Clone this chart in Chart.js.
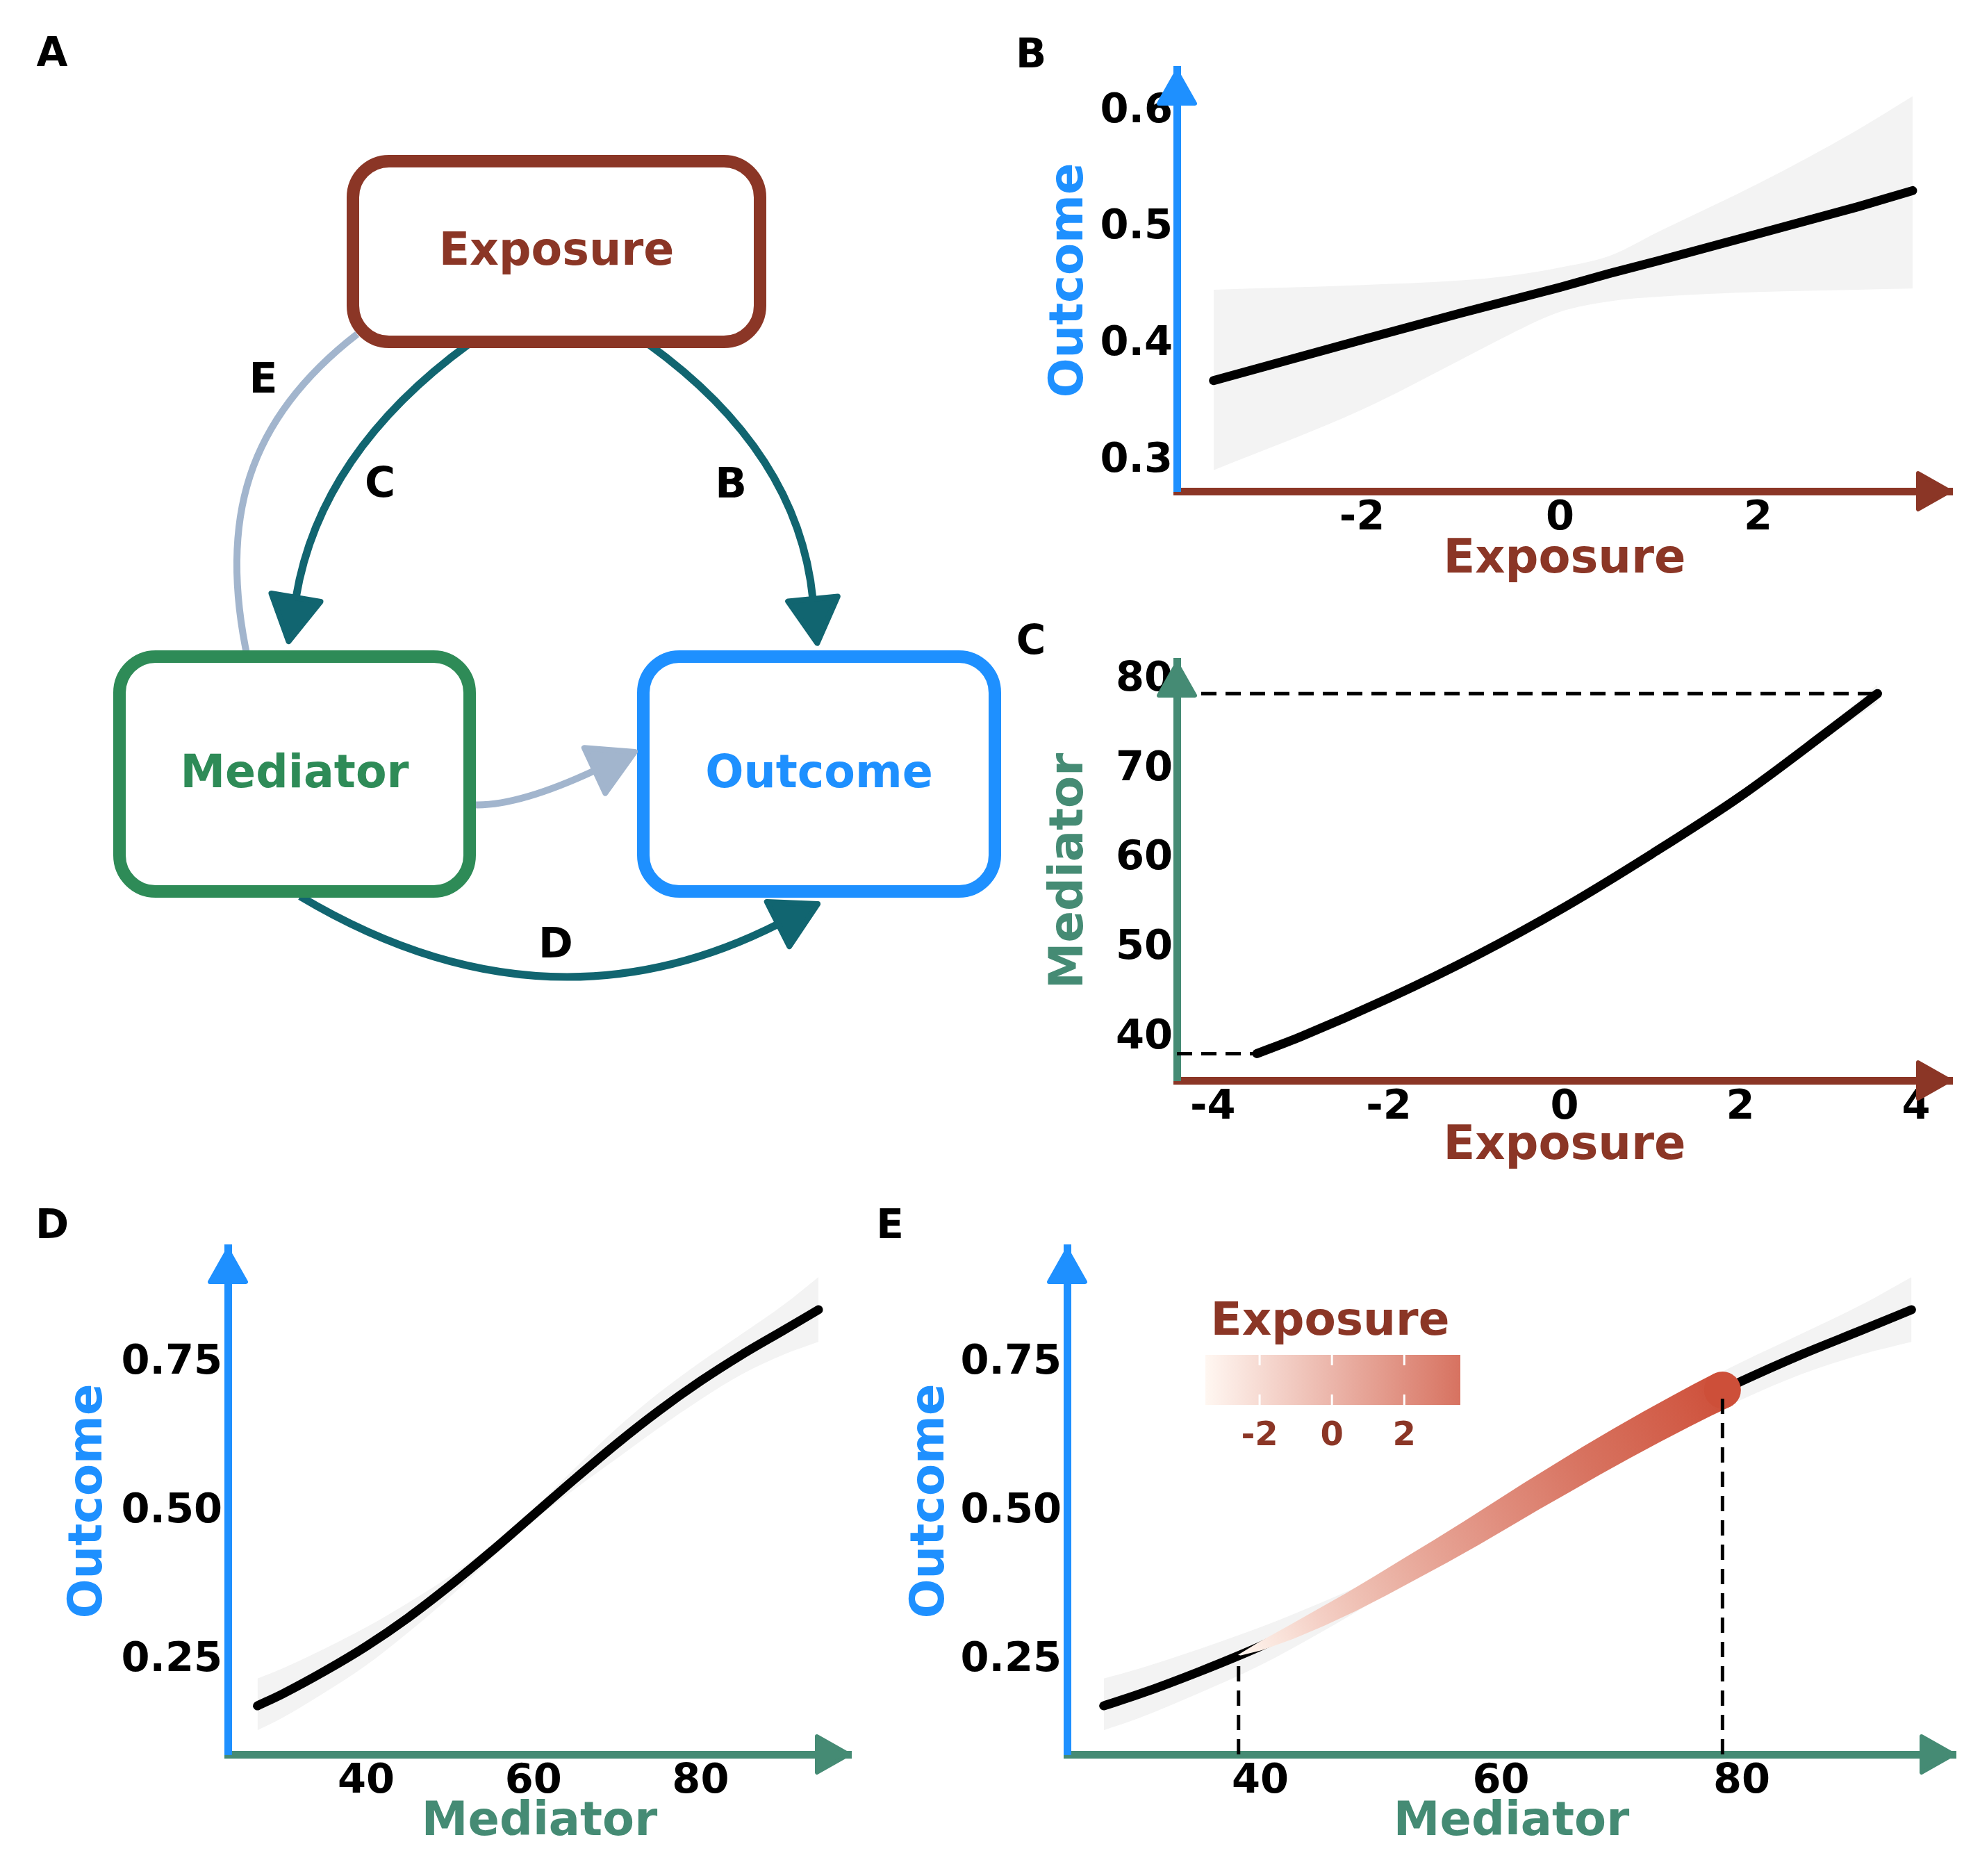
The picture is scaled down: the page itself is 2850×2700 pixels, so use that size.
<!DOCTYPE html>
<html lang="en">
<head>
<meta charset="UTF-8">
<title>Exposure - Mediator - Outcome</title>
<script src="https://cdn.jsdelivr.net/npm/chart.js"></script>
<style>
  body { margin: 0; background: #fff; }
  #page { position: relative; width: 2850px; height: 2700px; }
  canvas { position: absolute; }
</style>
</head>
<body>
<div id="page">
  <canvas id="panelA" width="1450" height="1500" style="left:0px;top:0px"></canvas>
  <canvas id="panelB" width="1400" height="880" style="left:1450px;top:0px"></canvas>
  <canvas id="panelC" width="1400" height="880" style="left:1450px;top:880px"></canvas>
  <canvas id="panelD" width="1250" height="1000" style="left:0px;top:1700px"></canvas>
  <canvas id="panelE" width="1600" height="1000" style="left:1250px;top:1700px"></canvas>
</div>
<script>
// ---- data ----
// B: exposure -> outcome
const bExposure = [-3.5, -2, -1, -0.5, 0, 0.5, 1, 2, 3, 3.56];
const bOutcome  = [0.369, 0.404, 0.427, 0.438, 0.449, 0.461, 0.472, 0.495, 0.518, 0.532];
const bUpper    = [0.447, 0.451, 0.455, 0.459, 0.466, 0.476, 0.497, 0.538, 0.584, 0.613];
const bLower    = [0.292, 0.344, 0.387, 0.409, 0.428, 0.437, 0.441, 0.445, 0.447, 0.448];
const bXTicks = [-2, 0, 2];
const bYTicks = [0.3, 0.4, 0.5, 0.6];

// C: exposure -> mediator
const cExposure = [-3.5, -3, -2, -1, 0, 1, 2, 3, 3.56];
const cMediator = [38.2, 40.1, 44.4, 49.2, 54.6, 60.6, 67.0, 74.3, 78.5];
const cUpper    = [38.4, 40.3, 44.6, 49.4, 54.8, 60.8, 67.3, 74.9, 79.5];
const cLower    = [38.0, 39.9, 44.2, 49.0, 54.4, 60.4, 66.7, 73.7, 77.5];
const cXTicks = [-4, -2, 0, 2, 4];
const cYTicks = [40, 50, 60, 70, 80];

// D / E: mediator -> outcome
const dMediator = [27, 30, 35, 40, 45, 50, 55, 60, 65, 70, 75, 80, 85, 90, 94.1];
const dOutcome  = [0.174, 0.194, 0.232, 0.274, 0.322, 0.376, 0.434, 0.495, 0.556, 0.615, 0.670, 0.720, 0.765, 0.806, 0.840];
const dUpper    = [0.220, 0.237, 0.270, 0.306, 0.347, 0.392, 0.444, 0.505, 0.574, 0.641, 0.700, 0.752, 0.800, 0.849, 0.895];
const dLower    = [0.133, 0.154, 0.196, 0.242, 0.297, 0.357, 0.422, 0.485, 0.539, 0.590, 0.641, 0.689, 0.732, 0.765, 0.786];
const dXTicks = [40, 60, 80];
const dYTicks = [0.25, 0.5, 0.75];

// E: part of the curve reached by the exposure range
const eMediator = [38.2, 40, 42.5, 45, 47.5, 50, 52.5, 55, 57.5, 60, 62.5, 65, 67.5, 70, 72.5, 75, 76.7, 78.4];
const eOutcome  = [0.259, 0.274, 0.297, 0.322, 0.348, 0.376, 0.405, 0.434, 0.464, 0.495, 0.526, 0.556, 0.586, 0.615, 0.643, 0.670, 0.688, 0.705];
const eExposure = [-3.5, -3.12, -2.51, -1.9, -1.37, -0.87, -0.4, 0.07, 0.48, 0.9, 1.31, 1.72, 2.09, 2.42, 2.74, 3.04, 3.28, 3.55];
const legendTicks = [-2, 0, 2];

const COL_EXP = '#8B3626', COL_MED = '#458B74', COL_MED_BOX = '#2E8B57', COL_OUT = '#1E90FF';
const COL_PATH = '#116570', COL_DIRECT = '#A2B5CD', BAND = '#F3F3F3';
const FONT = '"DejaVu Sans", sans-serif';

Chart.defaults.font.family = FONT;
Chart.defaults.font.weight = 'bold';
Chart.defaults.color = '#000';

const pts = (xs, ys) => xs.map((v, i) => ({x: v, y: ys[i]}));

function curveSet(xs, ys, smooth) {
  return {data: pts(xs, ys), showLine: true, borderColor: '#000', borderWidth: 13,
          borderCapStyle: 'round', pointRadius: 0, fill: false,
          cubicInterpolationMode: smooth ? 'monotone' : 'default', tension: 0};
}
function bandSets(xs, up, lo) {
  return [
    {data: pts(xs, up), showLine: true, borderWidth: 0, borderColor: 'rgba(0,0,0,0)', pointRadius: 0,
     fill: '+1', backgroundColor: BAND, cubicInterpolationMode: 'monotone'},
    {data: pts(xs, lo), showLine: true, borderWidth: 0, borderColor: 'rgba(0,0,0,0)', pointRadius: 0,
     fill: false, cubicInterpolationMode: 'monotone'}
  ];
}
function dashSet(p0, p1) {
  return {data: [p0, p1], showLine: true, borderColor: '#000', borderWidth: 5,
          borderDash: [22, 13], pointRadius: 0, fill: false};
}

function scaleCfg(o) {
  return {
    type: 'linear', min: o.range[0], max: o.range[1],
    afterBuildTicks: s => { s.ticks = o.ticks.map(v => ({value: v})); },
    afterFit: s => { if (s.isHorizontal()) s.height = o.size; else s.width = o.size; },
    grid: {display: false, drawTicks: false, tickLength: 0},
    border: {display: true, color: o.color, width: 11},
    ticks: {autoSkip: false, maxRotation: 0, padding: o.tickPad, color: '#000',
            font: {size: 59, weight: 'bold'}, callback: v => v.toFixed(o.digits)},
    title: {display: true, text: o.title, color: o.color,
            font: {size: 67, weight: 'bold'}, padding: o.titlePad}
  };
}

function arrowHead(ctx, tx, ty, dx, dy, len, hw, color, lw) {
  const bx = tx - dx * len, by = ty - dy * len;
  ctx.save();
  ctx.fillStyle = ctx.strokeStyle = color;
  ctx.lineJoin = 'round';
  ctx.lineWidth = lw;
  ctx.beginPath();
  ctx.moveTo(tx, ty);
  ctx.lineTo(bx - dy * hw, by + dx * hw);
  ctx.lineTo(bx + dy * hw, by - dx * hw);
  ctx.closePath();
  ctx.fill();
  ctx.stroke();
  ctx.restore();
}

// arrow tips at the end of both axes
const axisArrows = {
  id: 'axisArrows',
  afterDraw(chart) {
    const {ctx, chartArea: a, scales} = chart;
    arrowHead(ctx, a.right - 3, a.bottom, 1, 0, 46, 26, scales.x.options.border.color, 6);
    arrowHead(ctx, a.left, a.top + 3, 0, -1, 46, 26, scales.y.options.border.color, 6);
  }
};

const letter = {
  id: 'letter',
  afterDraw(chart, args, opts) {
    const ctx = chart.ctx;
    ctx.save();
    ctx.font = 'bold 58px ' + FONT;
    ctx.fillStyle = '#000';
    ctx.textAlign = 'center';
    ctx.textBaseline = 'middle';
    ctx.fillText(opts.text, opts.x, opts.y);
    ctx.restore();
  }
};

function panel(id, datasets, x, y, padding, letterOpts, extra) {
  return new Chart(document.getElementById(id), {
    type: 'scatter',
    data: {datasets},
    options: {
      responsive: false, animation: false, devicePixelRatio: 1,
      layout: {padding},
      plugins: {legend: {display: false}, tooltip: {enabled: false}, letter: letterOpts},
      scales: {x: scaleCfg(x), y: scaleCfg(y)}
    },
    plugins: [axisArrows, letter].concat(extra || [])
  });
}

function expColor(t, a) {
  const c0 = [255, 245, 238], c1 = [205, 79, 57];
  const c = c0.map((v, i) => Math.round(v + (c1[i] - v) * t));
  return 'rgba(' + c.join(',') + ',' + a + ')';
}

// ---- A: diagram ----
function roundBox(ctx, x0, y0, x1, y1, r) {
  ctx.beginPath();
  ctx.moveTo(x0 + r, y0);
  ctx.arcTo(x1, y0, x1, y1, r);
  ctx.arcTo(x1, y1, x0, y1, r);
  ctx.arcTo(x0, y1, x0, y0, r);
  ctx.arcTo(x0, y0, x1, y0, r);
  ctx.closePath();
}

const diagram = {
  id: 'diagram',
  afterDraw(chart) {
    const {ctx, scales: {x, y}} = chart;
    const P = q => [x.getPixelForValue(q[0]), y.getPixelForValue(q[1])];
    const edge = (c, color, w) => {
      const p = c.map(P);
      ctx.save();
      ctx.strokeStyle = color; ctx.lineWidth = w; ctx.lineCap = 'butt';
      ctx.beginPath();
      ctx.moveTo(p[0][0], p[0][1]);
      if (p.length === 3) ctx.quadraticCurveTo(p[1][0], p[1][1], p[2][0], p[2][1]);
      else ctx.bezierCurveTo(p[1][0], p[1][1], p[2][0], p[2][1], p[3][0], p[3][1]);
      ctx.stroke();
      ctx.restore();
      const e = p[p.length - 1], b = p[p.length - 2];
      const d = Math.hypot(e[0] - b[0], e[1] - b[1]);
      return {x: e[0], y: e[1], dx: (e[0] - b[0]) / d, dy: (e[1] - b[1]) / d};
    };
    const tip = (h, color) => arrowHead(ctx, h.x + h.dx * 64, h.y + h.dy * 64, h.dx, h.dy, 64, 36, color, 8);

    edge([[514, 481], [356, 603], [313, 748], [357, 950]], COL_DIRECT, 10);
    const hE = edge([[676, 1158], [740, 1163], [856, 1109]], COL_DIRECT, 10);
    const hC = edge([[675, 495], [461, 651], [426, 860]], COL_PATH, 11);
    const hB = edge([[933, 495], [1149, 651], [1170, 862]], COL_PATH, 11);
    const hD = edge([[432, 1290], [784, 1500], [1120, 1330]], COL_PATH, 11);

    const boxes = [
      {t: 'Exposure', c: COL_EXP, r: [508, 232, 1094, 492]},
      {t: 'Mediator', c: COL_MED_BOX, r: [172, 945, 676, 1283]},
      {t: 'Outcome', c: COL_OUT, r: [926, 945, 1432, 1283]}
    ];
    boxes.forEach(b => {
      const [x0, y0] = P([b.r[0], b.r[1]]), [x1, y1] = P([b.r[2], b.r[3]]);
      ctx.save();
      roundBox(ctx, x0, y0, x1, y1, 52);
      ctx.fillStyle = '#fff'; ctx.fill();
      ctx.strokeStyle = b.c; ctx.lineWidth = 18; ctx.stroke();
      ctx.font = 'bold 65px ' + FONT;
      ctx.fillStyle = b.c; ctx.textAlign = 'center'; ctx.textBaseline = 'middle';
      ctx.fillText(b.t, (x0 + x1) / 2, (y0 + y1) / 2 + 2);
      ctx.restore();
    });

    tip(hE, COL_DIRECT);
    tip(hC, COL_PATH);
    tip(hB, COL_PATH);
    tip(hD, COL_PATH);

    ctx.save();
    ctx.font = 'bold 60px ' + FONT;
    ctx.fillStyle = '#000'; ctx.textAlign = 'center'; ctx.textBaseline = 'middle';
    [['E', 379, 549], ['C', 547, 699], ['B', 1052, 700], ['D', 800, 1362]].forEach(l => {
      const [px, py] = P([l[1], l[2]]);
      ctx.fillText(l[0], px, py);
    });
    ctx.restore();
  }
};

new Chart(document.getElementById('panelA'), {
  type: 'scatter',
  data: {datasets: []},
  options: {
    responsive: false, animation: false, devicePixelRatio: 1,
    layout: {padding: 0},
    plugins: {legend: {display: false}, tooltip: {enabled: false}, letter: {text: 'A', x: 75, y: 80}},
    scales: {
      x: {type: 'linear', min: 0, max: 1450, display: false},
      y: {type: 'linear', min: 0, max: 1500, reverse: true, display: false}
    }
  },
  plugins: [diagram, letter]
});

// ---- B ----
panel('panelB',
  [curveSet(bExposure, bOutcome, false)].concat(bandSets(bExposure, bUpper, bLower)),
  {range: [-3.87, 3.96], ticks: bXTicks, digits: 0, color: COL_EXP, title: 'Exposure', size: 139.4, tickPad: 4, titlePad: {top: 0, bottom: 0}},
  {range: [0.274, 0.636], ticks: bYTicks, digits: 1, color: COL_OUT, title: 'Outcome', size: 244, tickPad: 6, titlePad: {top: 50, bottom: 0}},
  {left: 0, right: 40, top: 100, bottom: 33.6},
  {text: 'B', x: 34, y: 82});

// ---- C ----
const cXRange = [-4.41, 4.41];
const cLast = cMediator.length - 1;
panel('panelC',
  [dashSet({x: cXRange[0], y: cMediator[cLast]}, {x: cExposure[cLast], y: cMediator[cLast]}),
   dashSet({x: cXRange[0], y: cMediator[0]}, {x: cExposure[0], y: cMediator[0]}),
   curveSet(cExposure, cMediator, true)].concat(bandSets(cExposure, cUpper, cLower)),
  {range: cXRange, ticks: cXTicks, digits: 0, color: COL_EXP, title: 'Exposure', size: 135.4, tickPad: 4, titlePad: {top: 0, bottom: 0}},
  {range: [35.2, 82.1], ticks: cYTicks, digits: 0, color: COL_MED, title: 'Mediator', size: 244, tickPad: 6, titlePad: {top: 50, bottom: 0}},
  {left: 0, right: 40, top: 72, bottom: 69.6},
  {text: 'C', x: 34, y: 46});

// ---- D ----
const deYRange = [0.0923, 0.944];
panel('panelD',
  [curveSet(dMediator, dOutcome, true)].concat(bandSets(dMediator, dUpper, dLower)),
  {range: [23.46, 98.0], ticks: dXTicks, digits: 0, color: COL_MED, title: 'Mediator', size: 138.4, tickPad: 4, titlePad: {top: 0, bottom: 0}},
  {range: deYRange, ticks: dYTicks, digits: 2, color: COL_OUT, title: 'Outcome', size: 328, tickPad: 8, titlePad: {top: 88, bottom: 0}},
  {left: 0, right: 25, top: 96, bottom: 36.6},
  {text: 'D', x: 75, y: 67});

// ---- E ----
// tapered band along the curve: width and colour follow the exposure
const ribbon = {
  id: 'ribbon',
  afterDatasetDraw(chart, args) {
    if (args.index !== 2) return;
    const ctx = chart.ctx;
    const p = args.meta.data.map(e => ({x: e.x, y: e.y}));
    const n = p.length;
    const lo = eExposure[0], hi = eExposure[n - 1];
    const t = eExposure.map(e => (e - lo) / (hi - lo));
    const w = t.map(v => Math.max(2, 53 * Math.sqrt(v)));
    const L = [], R = [];
    for (let i = 0; i < n; i++) {
      const a = p[Math.max(i - 1, 0)], b = p[Math.min(i + 1, n - 1)];
      const d = Math.hypot(b.x - a.x, b.y - a.y);
      const ux = (b.x - a.x) / d, uy = (b.y - a.y) / d;
      L.push({x: p[i].x - uy * w[i] / 2, y: p[i].y + ux * w[i] / 2});
      R.push({x: p[i].x + uy * w[i] / 2, y: p[i].y - ux * w[i] / 2});
    }
    const g = ctx.createLinearGradient(p[0].x, p[0].y, p[n - 1].x, p[n - 1].y);
    const vx = p[n - 1].x - p[0].x, vy = p[n - 1].y - p[0].y, vv = vx * vx + vy * vy;
    p.forEach((q, i) => {
      const f = ((q.x - p[0].x) * vx + (q.y - p[0].y) * vy) / vv;
      g.addColorStop(Math.min(1, Math.max(0, f)), expColor(t[i], 1));
    });
    ctx.save();
    ctx.fillStyle = g;
    ctx.beginPath();
    L.forEach((q, i) => i ? ctx.lineTo(q.x, q.y) : ctx.moveTo(q.x, q.y));
    for (let i = n - 1; i >= 0; i--) ctx.lineTo(R[i].x, R[i].y);
    ctx.closePath();
    ctx.fill();
    ctx.fillStyle = expColor(1, 1);
    ctx.beginPath();
    ctx.arc(p[n - 1].x, p[n - 1].y, w[n - 1] / 2, 0, 2 * Math.PI);
    ctx.fill();
    ctx.restore();
  }
};

const colorbar = {
  id: 'colorbar',
  afterDraw(chart) {
    const ctx = chart.ctx, a = chart.chartArea;
    const x0 = a.left + 199, x1 = a.left + 566, y0 = a.top + 154, y1 = a.top + 226;
    const lo = eExposure[0], hi = eExposure[eExposure.length - 1];
    const px = v => x0 + (v - lo) / (hi - lo) * (x1 - x0);
    ctx.save();
    const g = ctx.createLinearGradient(x0, 0, x1, 0);
    for (let k = 0; k <= 10; k++) g.addColorStop(k / 10, expColor(k / 10, 0.8));
    ctx.fillStyle = g;
    ctx.fillRect(x0, y0, x1 - x0, y1 - y0);
    ctx.strokeStyle = '#fff';
    ctx.lineWidth = 3;
    legendTicks.forEach(v => {
      ctx.beginPath();
      ctx.moveTo(px(v), y0); ctx.lineTo(px(v), y0 + 15);
      ctx.moveTo(px(v), y1 - 15); ctx.lineTo(px(v), y1);
      ctx.stroke();
    });
    ctx.fillStyle = COL_EXP;
    ctx.textAlign = 'center';
    ctx.textBaseline = 'alphabetic';
    ctx.font = 'bold 66px ' + FONT;
    ctx.fillText('Exposure', (x0 + x1) / 2 - 4, a.top + 125);
    ctx.font = 'bold 48px ' + FONT;
    legendTicks.forEach(v => ctx.fillText(String(v), px(v), a.top + 284));
    ctx.restore();
  }
};

const eLast = eMediator.length - 1;
panel('panelE',
  [dashSet({x: eMediator[0], y: deYRange[0]}, {x: eMediator[0], y: eOutcome[0]}),
   dashSet({x: eMediator[eLast], y: deYRange[0]}, {x: eMediator[eLast], y: eOutcome[eLast]}),
   {data: pts(eMediator, eOutcome), showLine: false, pointRadius: 0, pointHoverRadius: 0},
   curveSet(dMediator, dOutcome, true)].concat(bandSets(dMediator, dUpper, dLower)),
  {range: [23.96, 97.77], ticks: dXTicks, digits: 0, color: COL_MED, title: 'Mediator', size: 138.4, tickPad: 4, titlePad: {top: 0, bottom: 0}},
  {range: deYRange, ticks: dYTicks, digits: 2, color: COL_OUT, title: 'Outcome', size: 286, tickPad: 8, titlePad: {top: 50, bottom: 0}},
  {left: 0, right: 35, top: 96, bottom: 36.6},
  {text: 'E', x: 31, y: 67},
  [ribbon, colorbar]);
</script>
</body>
</html>
